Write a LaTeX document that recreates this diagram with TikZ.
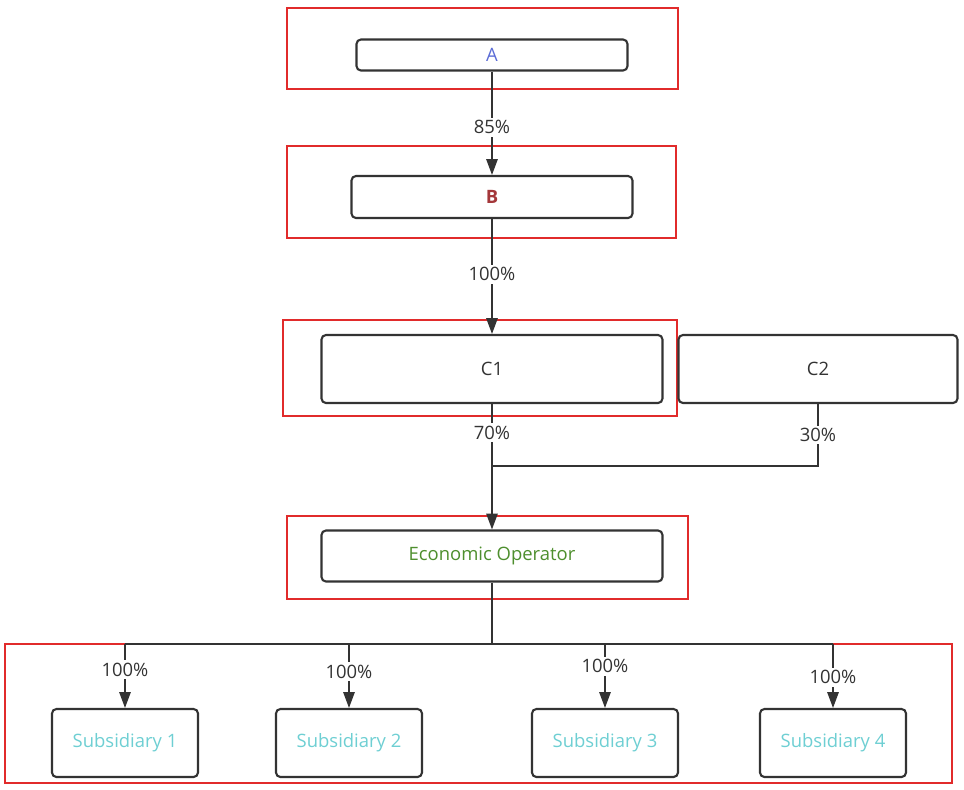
\documentclass[tikz,border=0pt]{standalone}
\usepackage{fontspec}
\setmainfont{Open Sans}
\usetikzlibrary{arrows.meta}
\definecolor{framered}{HTML}{E12B2B}
\definecolor{linegray}{HTML}{333333}
\definecolor{nameblue}{HTML}{5B6CD6}
\definecolor{namebrown}{HTML}{A4373A}
\definecolor{namegreen}{HTML}{4E8F2E}
\definecolor{namecyan}{HTML}{6ECFD3}
\tikzset{
  entity/.style={draw=linegray,line width=1.2pt,rounded corners=2.5pt,fill=white,
    font=\fontsize{10.5}{12}\selectfont},
  redframe/.style={draw=framered,line width=1.5pt},
  conn/.style={draw=linegray,line width=0.8pt},
  arr/.style={conn,-{Triangle[length=9pt,width=6.5pt]}},
  pct/.style={fill=white,inner sep=1.5pt,text=linegray,font=\fontsize{10.5}{12}\selectfont}
}
\begin{document}
\begin{tikzpicture}[x=0.02cm,y=-0.02cm]
\useasboundingbox (0,0) rectangle (964,789);
% frames round the entities
\draw[redframe] (287,8) rectangle (678,89);
\draw[redframe] (287,146) rectangle (676,238);
\draw[redframe] (283,320) rectangle (677,416);
\draw[redframe] (287,516) rectangle (688,599);
\draw[redframe] (5,644) rectangle (952,783);
% entities
\node[entity,minimum width=5.42cm,minimum height=0.62cm,text=nameblue] (A) at (492,55) {A};
\node[entity,minimum width=5.62cm,minimum height=0.84cm,text=namebrown,font=\fontsize{10.5}{12}\selectfont\bfseries] (B) at (492,197) {B};
\node[entity,minimum width=6.82cm,minimum height=1.36cm,text=linegray] (C1) at (492,369) {C1};
\node[entity,minimum width=5.58cm,minimum height=1.36cm,text=linegray] (C2) at (818,369) {C2};
\node[entity,minimum width=6.82cm,minimum height=1.02cm,text=namegreen] (EO) at (492,556) {Economic Operator};
\foreach \i/\x in {1/125,2/349,3/605,4/833}
  \node[entity,minimum width=2.92cm,minimum height=1.36cm,text=namecyan] (S\i) at (\x,743) {Subsidiary \i};
% ownership lines
\coordinate (join) at (492,466);
\coordinate (bus) at (492,644);
\draw[arr] (A) -- (B) node[pct,pos=0.54] (pA) {85\%};
\draw[arr] (B) -- (C1) node[pct,pos=0.48] (pB) {100\%};
\draw[arr] (C1) -- (EO) node[pct,pos=0.23] (pC1) {70\%};
\draw[conn] (C2.south) |- (join) node[pct,pos=0.25] (pC2) {30\%};
\draw[conn,line width=1.2pt] (EO.south) -- (bus);
\draw[conn,line width=1.2pt] (S1.north |- bus) -- (S4.north |- bus);
\foreach \i/\p in {1/0.40,2/0.43,3/0.35,4/0.52}
  \draw[arr] (S\i.north |- bus) -- (S\i.north) node[pct,pos=\p] (pS\i) {100\%};
\end{tikzpicture}
\end{document}
